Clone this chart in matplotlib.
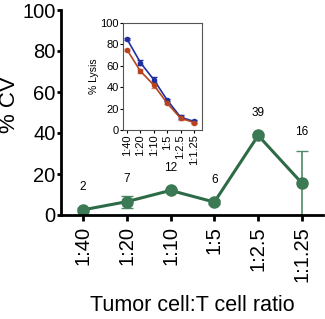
import matplotlib
matplotlib.use("Agg")
import matplotlib.pyplot as plt

plt.rcParams['font.family'] = ['Liberation Sans', 'DejaVu Sans']

ratios = ["1:40", "1:20", "1:10", "1:5", "1:2.5", "1:1.25"]
cv = [2.5, 6.5, 12, 6.3, 38.8, 15.5]
cv_err = [0.8, 3.0, 0.8, 0.8, 0.8, 15.5]
cv_labels = ["2", "7", "12", "6", "39", "16"]

lysis_blue = [85, 63, 47, 28, 12, 8]
lysis_blue_err = [1, 2, 3, 1, 2, 1]
lysis_red = [75, 55, 42, 25, 11, 7]
lysis_red_err = [1, 2, 3, 1, 2, 1]

green = "#2d6b46"
x = list(range(len(ratios)))

fig = plt.figure(figsize=(3.25, 3.19), dpi=100)
ax = fig.add_axes([61 / 325, 1 - 215 / 319, (323 - 61) / 325, (215 - 10) / 319])

ax.errorbar(x, cv, yerr=cv_err, color=green, ecolor="#4f8a68", lw=2.2,
            elinewidth=1.2, capsize=4, marker="o", ms=8, mfc="#3b7a55",
            mec="#3b7a55")
for xi, yi, lab in zip(x, cv, cv_labels):
    ax.text(xi, yi + (22 if lab == "16" else 8), lab, ha="center", va="bottom", fontsize=8.5)

ax.set_xlim(-0.5, 5.48)
ax.set_ylim(0, 100)
ax.set_yticks([0, 20, 40, 60, 80, 100])
ax.set_xticks(x)
ax.set_xticklabels(ratios, rotation=90)
ax.tick_params(labelsize=14.5, width=2, length=3)
ax.tick_params(axis="y", pad=1)
ax.tick_params(axis="x", length=4, pad=4)
ax.spines['top'].set_visible(False)
ax.spines['right'].set_visible(False)
ax.spines['left'].set_linewidth(2)
ax.spines['bottom'].set_linewidth(2)
ax.set_ylabel("% CV", fontsize=16)
ax.yaxis.set_label_coords(-0.158, 0.54)
ax.set_xlabel("Tumor cell:T cell ratio", fontsize=15.5)
ax.xaxis.set_label_coords(0.5, -0.39)

# inset
ins = fig.add_axes([123 / 325, 1 - 130 / 319, (202 - 123) / 325, (130 - 23) / 319])
ins.errorbar(x, lysis_blue, yerr=lysis_blue_err, color="#1f2fa0", lw=1.2,
             marker="o", ms=3, capsize=2, elinewidth=0.8)
ins.errorbar(x, lysis_red, yerr=lysis_red_err, color="#b8441c", lw=1.2,
             marker="o", ms=3, capsize=2, elinewidth=0.8, ecolor="#d08070")
ins.set_xlim(-0.3, 5.6)
ins.set_ylim(0, 100)
ins.set_yticks([0, 20, 40, 60, 80, 100])
ins.set_xticks(x)
ins.set_xticklabels(ratios, rotation=90)
ins.tick_params(labelsize=8, width=0.8, length=2, pad=1)
for s in ins.spines.values():
    s.set_linewidth(0.8)
    s.set_color("#555555")
ins.set_ylabel("% Lysis", fontsize=7.5, labelpad=1)

fig.savefig("out.png", dpi=100)
